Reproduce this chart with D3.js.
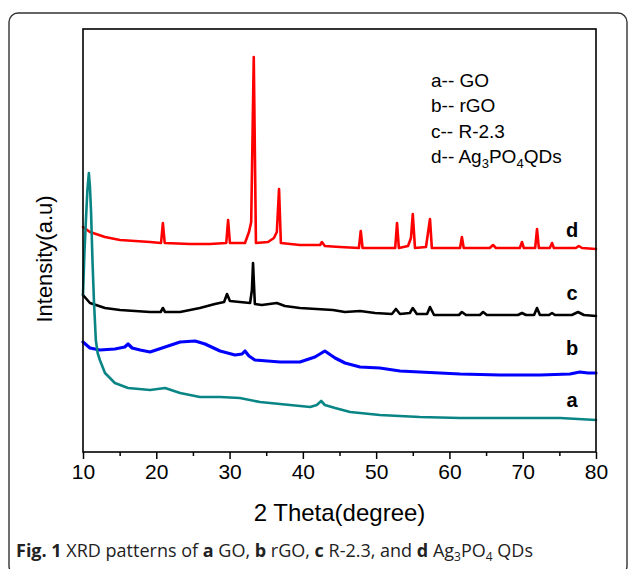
<!DOCTYPE html>
<html>
<head>
<meta charset="utf-8">
<script src="https://cdn.jsdelivr.net/npm/d3@7"></script>
<style>
  body { margin: 0; background: #fff; }
  svg { display: block; }
  .trace { fill: none; stroke-linejoin: round; stroke-linecap: round; }
  .axis text { font-family: 'Liberation Sans', Arial, sans-serif; font-size: 21px; fill: #000; }
  .axis path, .axis line { stroke: #000; stroke-width: 1.5; }
</style>
</head>
<body>
<div id="chart"></div>
<script>
// XRD traces: [2 theta (deg), intensity (a.u., offset stacked)]
var traceGO = [
  [10.0,157],[10.2,200],[10.4,232],[10.6,262],[10.8,279],[10.95,265],[11.1,240],[11.3,190],
  [11.5,150],[11.75,112],[12.0,99],[12.3,92],[13.0,79],[14.35,69],[16.15,64],[19.15,62],
  [21.2,64],[23.25,59],[25.95,55],[28.7,55],[31.4,54],[34.15,50],[38.25,47],[41.0,45],
  [41.9,47],[42.5,51],[43.0,47],[44.4,44],[46.45,40],[50.5,37],[55.95,35],[61.45,34],
  [66.9,34],[75.1,34],[80.0,32]
];
var traceRGO = [
  [10.0,110],[10.95,104],[12.3,102],[14.35,103],[15.7,105],[16.15,108],[16.7,104],[17.8,102],
  [19.15,100],[21.2,105],[23.25,110],[25.3,111],[26.65,108],[28.7,101],[30.75,97],[31.7,98],
  [32.1,101],[32.65,96],[33.45,92],[36.9,90],[39.6,90],[41.65,95],[43.0,101],[44.4,94],
  [45.75,89],[47.8,85],[50.5,84],[53.25,81],[55.95,80],[61.45,78],[66.9,77],[72.35,77],
  [76.45,78],[77.8,80],[78.9,79],[80.0,79]
];
var traceR23 = [
  [10.0,157],[10.95,149],[13.0,144],[15.05,142],[19.15,140],[20.6,140],[20.9,144],[21.2,140],
  [23.25,140],[25.95,144],[28.0,148],[29.25,150],[29.65,158],[30.05,151],[31.4,150],[32.8,149],
  [33.05,162],[33.2,189],[33.45,148],[34.4,147],[36.45,149],[37.55,146],[39.6,144],[44.1,142],
  [45.75,140],[47.8,141],[49.85,139],[52.15,138],[52.7,143],[53.25,138],[54.6,139],[55.0,144],
  [55.55,138],[56.95,138],[57.35,145],[57.9,137],[61.3,137],[61.7,140],[62.25,137],[64.15,137],
  [64.6,140],[65.1,137],[69.35,137],[69.9,139],[70.45,137],[71.55,137],[71.95,144],[72.35,137],
  [73.6,137],[74.0,139],[74.4,137],[76.7,137],[77.55,140],[78.35,137],[80.0,136]
];
var traceAg = [
  [10.0,225],[10.95,220],[13.0,215],[15.05,212],[19.15,210],[20.65,209],[20.9,229],[21.15,209],
  [24.6,208],[27.3,208],[29.55,209],[29.8,232],[30.05,209],[32.1,209],[32.65,220],[32.95,230],
  [33.3,395],[33.6,209],[35.25,210],[36.05,214],[36.45,220],[36.75,263],[37.0,209],[39.6,207],
  [42.35,207],[42.6,210],[43.0,206],[45.05,205],[47.65,204],[47.9,221],[48.15,204],[50.5,204],
  [52.6,204],[52.85,229],[53.1,204],[54.35,206],[54.75,214],[55.0,238],[55.3,204],[56.8,205],
  [57.35,233],[57.6,204],[61.45,204],[61.7,215],[61.95,204],[65.5,204],[65.95,207],[66.35,204],
  [69.6,204],[69.9,210],[70.15,204],[71.7,204],[71.95,223],[72.2,204],[73.7,204],[74.0,209],
  [74.25,204],[77.25,204],[77.65,206],[78.1,204],[80.0,203]
];

var xTicks = [10, 20, 30, 40, 50, 60, 70, 80];
var xMinorTicks = [15, 25, 35, 45, 55, 65, 75];
var seriesNames = ["a", "b", "c", "d"];
var seriesColors = ["#0a8585", "#0000ff", "#000000", "#ff0000"];
var legendLabels = ["a-- GO", "b-- rGO", "c-- R-2.3"];
// end labels sit just above each trace's tail
var tagLevels = [45, 97, 152, 215];

var W = 629, H = 569;
var margin = { left: 83, right: 33, top: 29, bottom: 117 };
var sans = "'Liberation Sans', Arial, sans-serif";

var svg = d3.select("#chart").append("svg")
  .attr("width", W)
  .attr("height", H);

// rounded figure frame
svg.append("rect")
  .attr("x", 9).attr("y", 13)
  .attr("width", 618).attr("height", 562)
  .attr("rx", 9)
  .attr("fill", "none")
  .attr("stroke", "#333")
  .attr("stroke-width", 1.4);

var x = d3.scaleLinear().domain([10, 80]).range([margin.left, W - margin.right]);
var y = d3.scaleLinear().domain([0, 423]).range([H - margin.bottom, margin.top]);

var line = d3.line()
  .x(function(d) { return x(d[0]); })
  .y(function(d) { return y(d[1]); });

var plot = svg.append("g");
var traces = [traceGO, traceRGO, traceR23, traceAg];
// draw back to front like the original (teal on top at the left)
[3, 2, 1, 0].forEach(function(i) {
  plot.append("path")
    .datum(traces[i])
    .attr("class", "trace")
    .attr("stroke", seriesColors[i])
    .attr("stroke-width", i == 1 ? 3.2 : 2.6)
    .attr("d", line);
});

// plot box
svg.append("rect")
  .attr("x", x(10)).attr("y", y(423))
  .attr("width", x(80) - x(10)).attr("height", y(0) - y(423))
  .attr("fill", "none")
  .attr("stroke", "#000")
  .attr("stroke-width", 1.6);

// x axis, ticks pointing outward
var xAxis = svg.append("g")
  .attr("class", "axis")
  .attr("transform", "translate(0," + y(0) + ")")
  .call(d3.axisBottom(x).tickValues(xTicks).tickSize(7).tickPadding(5).tickFormat(d3.format("d")));
xAxis.select(".domain").remove();

svg.append("g")
  .attr("class", "axis")
  .attr("transform", "translate(0," + y(0) + ")")
  .call(d3.axisBottom(x).tickValues(xMinorTicks).tickSize(4).tickFormat(""))
  .select(".domain").remove();

svg.append("text")
  .attr("x", (x(10) + x(80)) / 2)
  .attr("y", 521)
  .attr("text-anchor", "middle")
  .style("font-family", sans)
  .style("font-size", "24px")
  .text("2 Theta(degree)");

svg.append("text")
  .attr("transform", "translate(52,259) rotate(-90)")
  .attr("text-anchor", "middle")
  .style("font-family", sans)
  .style("font-size", "22px")
  .text("Intensity(a.u)");

// legend block
var legend = svg.append("g")
  .style("font-family", sans)
  .style("font-size", "19px");
legendLabels.forEach(function(t, i) {
  legend.append("text").attr("x", 431).attr("y", 87 + i * 25.3).text(t);
});
var agText = legend.append("text").attr("x", 431).attr("y", 87 + 3 * 25.3);
agText.append("tspan").text("d-- Ag");
agText.append("tspan").attr("dy", 5).style("font-size", "13px").text("3");
agText.append("tspan").attr("dy", -5).text("PO");
agText.append("tspan").attr("dy", 5).style("font-size", "13px").text("4");
agText.append("tspan").attr("dy", -5).text("QDs");

// series tags at the right end
svg.append("g").selectAll("text")
  .data(seriesNames)
  .enter().append("text")
  .attr("x", 572)
  .attr("y", function(d, i) { return y(tagLevels[i]); })
  .attr("text-anchor", "middle")
  .style("font-family", sans)
  .style("font-size", "20px")
  .style("font-weight", "bold")
  .text(function(d) { return d; });

// caption
var cap = svg.append("text")
  .attr("x", 16).attr("y", 557)
  .style("font-family", "'Open Sans', 'Noto Sans', sans-serif")
  .style("font-size", "18px")
  .style("fill", "#222");
var bold = function(t) { cap.append("tspan").style("font-weight", "bold").text(t); };
var plain = function(t) { cap.append("tspan").text(t); };
bold("Fig. 1"); plain(" XRD patterns of "); bold("a"); plain(" GO, "); bold("b");
plain(" rGO, "); bold("c"); plain(" R-2.3, and "); bold("d"); plain(" Ag");
cap.append("tspan").attr("dy", 4).style("font-size", "12px").text("3");
cap.append("tspan").attr("dy", -4).text("PO");
cap.append("tspan").attr("dy", 4).style("font-size", "12px").text("4");
cap.append("tspan").attr("dy", -4).text(" QDs");
</script>
</body>
</html>
